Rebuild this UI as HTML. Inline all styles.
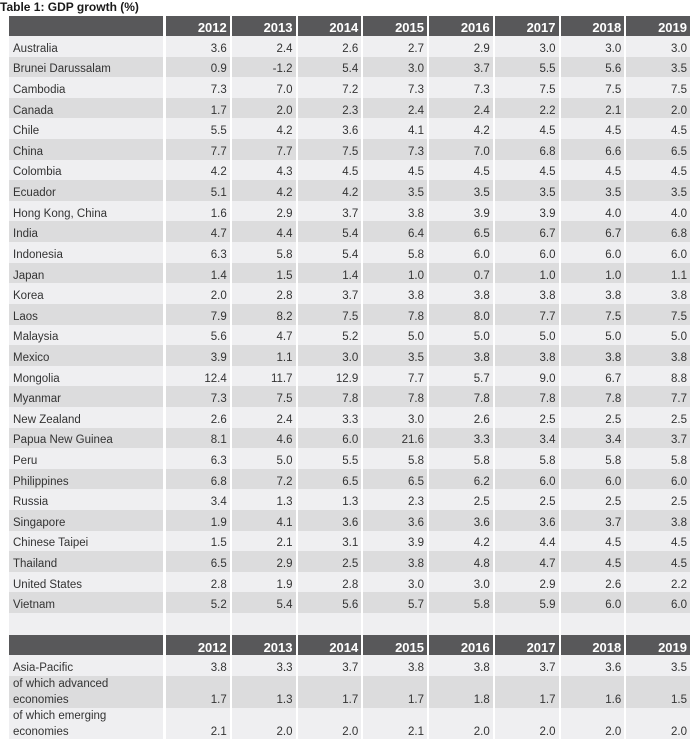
<!DOCTYPE html>
<html><head><meta charset="utf-8">
<style>
html,body{margin:0;padding:0;background:#fff;}
body{width:700px;height:748px;position:relative;overflow:hidden;font-family:"Liberation Sans",sans-serif;color:#333;}
.title{position:absolute;left:0;top:0;font-size:12px;font-weight:bold;line-height:14px;color:#1a1a1a;}
.t{position:absolute;left:9px;top:16px;width:682px;}
.r{display:flex;column-gap:2px;height:20.62px;}
.r>div{flex:0 0 63.75px;box-sizing:border-box;display:flex;align-items:center;justify-content:flex-end;padding-right:3px;padding-top:5px;font-size:11.5px;line-height:14px;white-space:nowrap;}
.r>div:first-child{flex:0 0 154px;margin-right:1px;justify-content:flex-start;padding-left:4px;padding-right:0;}
.l>div{background:#efeff1;}
.g>div{background:#dcdcdd;}
.h{height:20px;}
.h>div{background:#58585a;color:#fff;font-weight:bold;font-size:13px;padding-top:4px;}
.h2{height:20px;}
.h2>div{padding-top:6px;}
.e{height:21.5px;}
.a{height:21px;}
.m{height:32px;}
.m2{height:31px;}
.m>div,.m2>div{align-items:flex-start;padding-top:0;line-height:16px;white-space:normal;}
.m>div:not(:first-child),.m2>div:not(:first-child){padding-top:16px;}
</style></head><body>
<div class="title">Table 1: GDP growth (%)</div>
<div class="t">
<div class="r h"><div></div><div>2012</div><div>2013</div><div>2014</div><div>2015</div><div>2016</div><div>2017</div><div>2018</div><div>2019</div></div>
<div class="r l"><div>Australia</div><div>3.6</div><div>2.4</div><div>2.6</div><div>2.7</div><div>2.9</div><div>3.0</div><div>3.0</div><div>3.0</div></div>
<div class="r g"><div>Brunei Darussalam</div><div>0.9</div><div>-1.2</div><div>5.4</div><div>3.0</div><div>3.7</div><div>5.5</div><div>5.6</div><div>3.5</div></div>
<div class="r l"><div>Cambodia</div><div>7.3</div><div>7.0</div><div>7.2</div><div>7.3</div><div>7.3</div><div>7.5</div><div>7.5</div><div>7.5</div></div>
<div class="r g"><div>Canada</div><div>1.7</div><div>2.0</div><div>2.3</div><div>2.4</div><div>2.4</div><div>2.2</div><div>2.1</div><div>2.0</div></div>
<div class="r l"><div>Chile</div><div>5.5</div><div>4.2</div><div>3.6</div><div>4.1</div><div>4.2</div><div>4.5</div><div>4.5</div><div>4.5</div></div>
<div class="r g"><div>China</div><div>7.7</div><div>7.7</div><div>7.5</div><div>7.3</div><div>7.0</div><div>6.8</div><div>6.6</div><div>6.5</div></div>
<div class="r l"><div>Colombia</div><div>4.2</div><div>4.3</div><div>4.5</div><div>4.5</div><div>4.5</div><div>4.5</div><div>4.5</div><div>4.5</div></div>
<div class="r g"><div>Ecuador</div><div>5.1</div><div>4.2</div><div>4.2</div><div>3.5</div><div>3.5</div><div>3.5</div><div>3.5</div><div>3.5</div></div>
<div class="r l"><div>Hong Kong, China</div><div>1.6</div><div>2.9</div><div>3.7</div><div>3.8</div><div>3.9</div><div>3.9</div><div>4.0</div><div>4.0</div></div>
<div class="r g"><div>India</div><div>4.7</div><div>4.4</div><div>5.4</div><div>6.4</div><div>6.5</div><div>6.7</div><div>6.7</div><div>6.8</div></div>
<div class="r l"><div>Indonesia</div><div>6.3</div><div>5.8</div><div>5.4</div><div>5.8</div><div>6.0</div><div>6.0</div><div>6.0</div><div>6.0</div></div>
<div class="r g"><div>Japan</div><div>1.4</div><div>1.5</div><div>1.4</div><div>1.0</div><div>0.7</div><div>1.0</div><div>1.0</div><div>1.1</div></div>
<div class="r l"><div>Korea</div><div>2.0</div><div>2.8</div><div>3.7</div><div>3.8</div><div>3.8</div><div>3.8</div><div>3.8</div><div>3.8</div></div>
<div class="r g"><div>Laos</div><div>7.9</div><div>8.2</div><div>7.5</div><div>7.8</div><div>8.0</div><div>7.7</div><div>7.5</div><div>7.5</div></div>
<div class="r l"><div>Malaysia</div><div>5.6</div><div>4.7</div><div>5.2</div><div>5.0</div><div>5.0</div><div>5.0</div><div>5.0</div><div>5.0</div></div>
<div class="r g"><div>Mexico</div><div>3.9</div><div>1.1</div><div>3.0</div><div>3.5</div><div>3.8</div><div>3.8</div><div>3.8</div><div>3.8</div></div>
<div class="r l"><div>Mongolia</div><div>12.4</div><div>11.7</div><div>12.9</div><div>7.7</div><div>5.7</div><div>9.0</div><div>6.7</div><div>8.8</div></div>
<div class="r g"><div>Myanmar</div><div>7.3</div><div>7.5</div><div>7.8</div><div>7.8</div><div>7.8</div><div>7.8</div><div>7.8</div><div>7.7</div></div>
<div class="r l"><div>New Zealand</div><div>2.6</div><div>2.4</div><div>3.3</div><div>3.0</div><div>2.6</div><div>2.5</div><div>2.5</div><div>2.5</div></div>
<div class="r g"><div>Papua New Guinea</div><div>8.1</div><div>4.6</div><div>6.0</div><div>21.6</div><div>3.3</div><div>3.4</div><div>3.4</div><div>3.7</div></div>
<div class="r l"><div>Peru</div><div>6.3</div><div>5.0</div><div>5.5</div><div>5.8</div><div>5.8</div><div>5.8</div><div>5.8</div><div>5.8</div></div>
<div class="r g"><div>Philippines</div><div>6.8</div><div>7.2</div><div>6.5</div><div>6.5</div><div>6.2</div><div>6.0</div><div>6.0</div><div>6.0</div></div>
<div class="r l"><div>Russia</div><div>3.4</div><div>1.3</div><div>1.3</div><div>2.3</div><div>2.5</div><div>2.5</div><div>2.5</div><div>2.5</div></div>
<div class="r g"><div>Singapore</div><div>1.9</div><div>4.1</div><div>3.6</div><div>3.6</div><div>3.6</div><div>3.6</div><div>3.7</div><div>3.8</div></div>
<div class="r l"><div>Chinese Taipei</div><div>1.5</div><div>2.1</div><div>3.1</div><div>3.9</div><div>4.2</div><div>4.4</div><div>4.5</div><div>4.5</div></div>
<div class="r g"><div>Thailand</div><div>6.5</div><div>2.9</div><div>2.5</div><div>3.8</div><div>4.8</div><div>4.7</div><div>4.5</div><div>4.5</div></div>
<div class="r l"><div>United States</div><div>2.8</div><div>1.9</div><div>2.8</div><div>3.0</div><div>3.0</div><div>2.9</div><div>2.6</div><div>2.2</div></div>
<div class="r g"><div>Vietnam</div><div>5.2</div><div>5.4</div><div>5.6</div><div>5.7</div><div>5.8</div><div>5.9</div><div>6.0</div><div>6.0</div></div>
<div class="r l e"><div></div><div></div><div></div><div></div><div></div><div></div><div></div><div></div><div></div></div>
<div class="r h h2"><div></div><div>2012</div><div>2013</div><div>2014</div><div>2015</div><div>2016</div><div>2017</div><div>2018</div><div>2019</div></div>
<div class="r l a"><div>Asia-Pacific</div><div>3.8</div><div>3.3</div><div>3.7</div><div>3.8</div><div>3.8</div><div>3.7</div><div>3.6</div><div>3.5</div></div>
<div class="r g m"><div>of which advanced<br>economies</div><div>1.7</div><div>1.3</div><div>1.7</div><div>1.7</div><div>1.8</div><div>1.7</div><div>1.6</div><div>1.5</div></div>
<div class="r l m2"><div>of which emerging<br>economies</div><div>2.1</div><div>2.0</div><div>2.0</div><div>2.1</div><div>2.0</div><div>2.0</div><div>2.0</div><div>2.0</div></div>
</div>
</body></html>
